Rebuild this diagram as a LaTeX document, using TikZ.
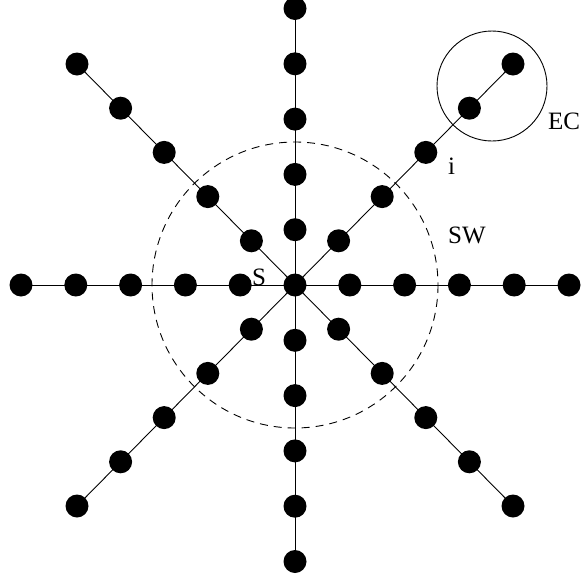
\documentclass[tikz,border=0pt]{standalone}
\usepackage{fontspec}
\setmainfont{Liberation Serif}
\begin{document}
\begin{tikzpicture}[x=1pt,y=-1pt,
  dot/.style={circle,fill=black,draw=none,minimum size=23pt,inner sep=0pt},
  edge/.style={line width=0.9pt},
  lbl/.style={inner sep=0pt,anchor=base west,font=\fontsize{25}{30}\selectfont},
  window/.style={line width=0.9pt,dash pattern=on 8pt off 6pt},
  ecircle/.style={line width=0.9pt}]
\useasboundingbox (0,0) rectangle (582,579);
\def\hs{54.8}\def\vs{55.3}\def\dx{43.6}\def\dy{44.2}
\node[dot] (c) at (295,285) {};
\foreach \k in {1,...,5}{
  \node[dot] (r\k) at ({295+\k*\hs},285) {};
  \node[dot] (l\k) at ({295-\k*\hs},285) {};
  \node[dot] (u\k) at (295,{285-\k*\vs}) {};
  \node[dot] (d\k) at (295,{285+\k*\vs}) {};
  \node[dot] (ur\k) at ({295+\k*\dx},{285-\k*\dy}) {};
  \node[dot] (ul\k) at ({295-\k*\dx},{285-\k*\dy}) {};
  \node[dot] (dr\k) at ({295+\k*\dx},{285+\k*\dy}) {};
  \node[dot] (dl\k) at ({295-\k*\dx},{285+\k*\dy}) {};
}
\draw[edge] (l5.center) -- (r5.center);
\draw[edge] (u5.center) -- (d5.center);
\draw[edge] (ul5.center) -- (dr5.center);
\draw[edge] (dl5.center) -- (ur5.center);
\node[circle,draw=none,minimum size=286pt,inner sep=0pt] (sw) at (c) {};
\draw[window] (c) circle[radius=143];
\coordinate (ecc) at (492,86);
\draw[ecircle] (ecc) circle[radius=55];
\node[lbl] (ls) at (252,285) {S};
\node[lbl] (li) at (448,174) {i};
\node[lbl] (lsw) at (448,243) {SW};
\node[lbl] (lec) at (548,129) {EC};
\end{tikzpicture}
\end{document}
